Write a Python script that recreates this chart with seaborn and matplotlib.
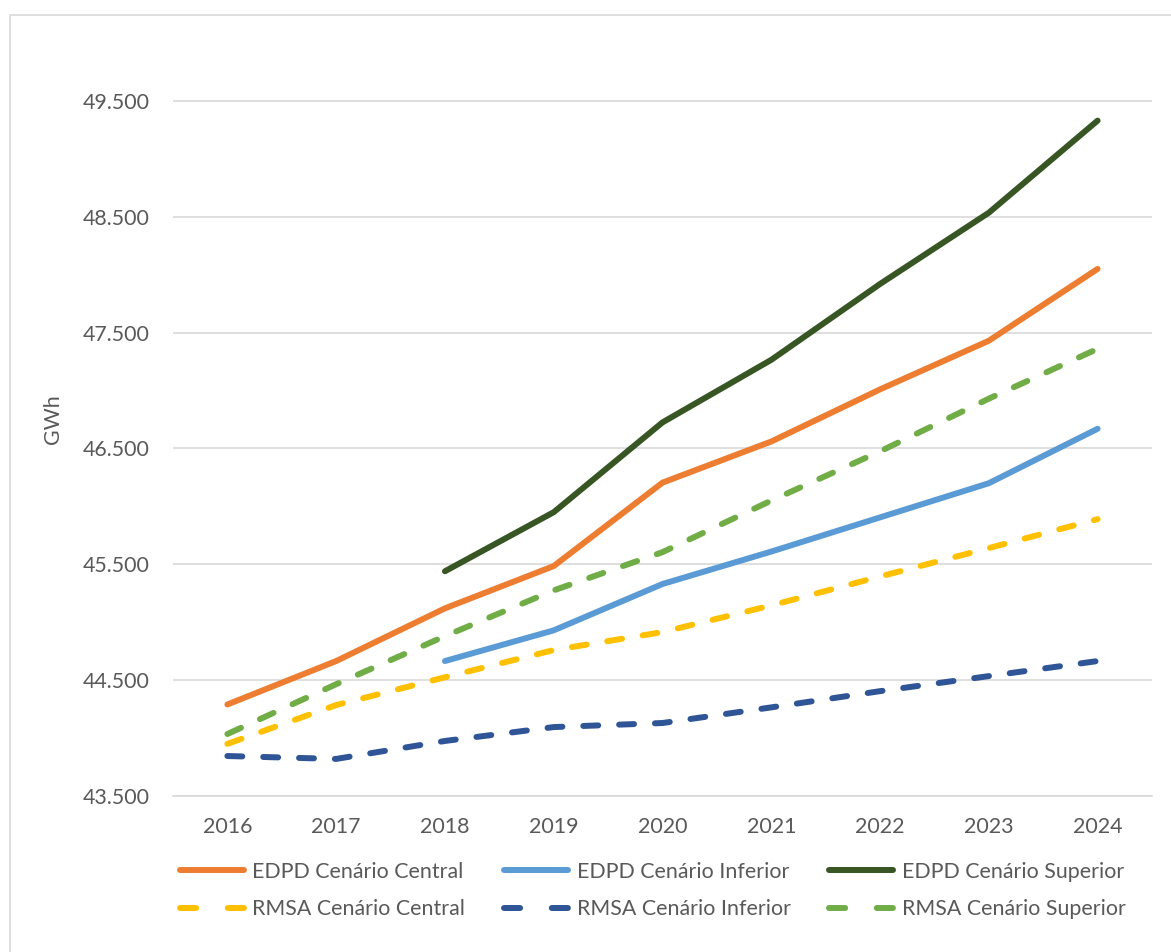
import numpy as np
import pandas as pd
import seaborn as sns
import matplotlib.pyplot as plt
from matplotlib.ticker import FuncFormatter
from matplotlib.patches import Rectangle
from matplotlib.lines import Line2D

years = ['2016', '2017', '2018', '2019', '2020', '2021', '2022', '2023', '2024']

edpd_central = [44290, 44665, 45120, 45485, 46205, 46560, 47010, 47430, 48050]
edpd_inferior = [np.nan, np.nan, 44665, 44930, 45330, 45610, 45905, 46200, 46670]
edpd_superior = [np.nan, np.nan, 45440, 45950, 46725, 47265, 47920, 48535, 49330]
rmsa_central = [43950, 44285, 44525, 44760, 44915, 45145, 45395, 45640, 45890]
rmsa_inferior = [43845, 43820, 43975, 44095, 44130, 44265, 44405, 44535, 44665]
rmsa_superior = [44035, 44465, 44880, 45275, 45605, 46050, 46475, 46930, 47360]

series = [
    ('EDPD Cenário Central', edpd_central, '#ED7D31', '-'),
    ('EDPD Cenário Inferior', edpd_inferior, '#5B9BD5', '-'),
    ('EDPD Cenário Superior', edpd_superior, '#375623', '-'),
    ('RMSA Cenário Central', rmsa_central, '#FFC000', '--'),
    ('RMSA Cenário Inferior', rmsa_inferior, '#2F5597', '--'),
    ('RMSA Cenário Superior', rmsa_superior, '#70AD47', '--'),
]

sns.set_style('white')
plt.rcParams['font.family'] = ['Lato', 'DejaVu Sans']
txt = '#595959'
fs = 15.4
lw = 4.3

fig = plt.figure(figsize=(11.71, 9.52), dpi=100)
ax = fig.add_axes([173/1171, 1-796/952, (1152-173)/1171, (796-43)/952])

# frame like the excel chart area
fig.patches.append(Rectangle((10/1171, -0.05), 1.2, 1-15/952+0.05, transform=fig.transFigure,
                             fill=False, edgecolor='#D9D9D9', lw=1.2))

x = np.arange(len(years))
handles = {}
for name, vals, col, ls in series:
    df = pd.DataFrame({'x': x, 'y': vals}).dropna()
    if ls == '--':
        sns.lineplot(data=df, x='x', y='y', ax=ax, color=col, lw=lw,
                     dashes=(2.5, 3.5), dash_capstyle='round')
        handles[name] = Line2D([], [], color=col, lw=lw, dashes=(2.7, 5.3), dash_capstyle='round')
    else:
        sns.lineplot(data=df, x='x', y='y', ax=ax, color=col, lw=lw, solid_capstyle='round')
        handles[name] = Line2D([], [], color=col, lw=lw, solid_capstyle='round')

ax.set_xlim(-0.5, 8.5)
ax.set_ylim(43500, 50000)
ax.set_yticks(np.arange(43500, 50000, 1000))
ax.yaxis.set_major_formatter(FuncFormatter(lambda v, p: f'{int(v):,}'.replace(',', '.')))
ax.set_xticks(x)
ax.set_xticklabels(years)
ax.grid(axis='y', color='#D9D9D9', lw=1.2)
ax.grid(axis='x', visible=False)
for s in ['top', 'right', 'left']:
    ax.spines[s].set_visible(False)
ax.spines['bottom'].set_color('#D9D9D9')
ax.spines['bottom'].set_linewidth(1.2)
ax.tick_params(axis='both', colors=txt, labelsize=fs, length=0)
ax.tick_params(axis='x', pad=15)
ax.tick_params(axis='y', pad=17)
ax.set_xlabel('')
ax.set_ylabel('GWh', color=txt, fontsize=fs, labelpad=14)

# rows are EDPD / RMSA
order = [0, 3, 1, 4, 2, 5]
names = [series[i][0] for i in order]
ax.legend([handles[n] for n in names], names, ncol=3, frameon=False,
          loc='upper center', bbox_to_anchor=(0.49, -0.062), fontsize=fs,
          labelcolor=txt, handlelength=3.0, handletextpad=0.4, columnspacing=1.8,
          labelspacing=0.8)

fig.savefig('out.png', dpi=100)
